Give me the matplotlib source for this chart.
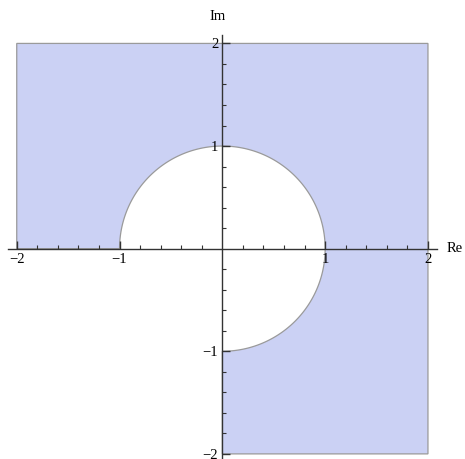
import numpy as np
import matplotlib
matplotlib.use("Agg")
import matplotlib.pyplot as plt
from matplotlib.patches import Polygon
from matplotlib.ticker import FixedLocator

# region definition: |z| > radius and (Re z > 0 or Im z > 0), inside box
x_range = [-2.0, 2.0]
y_range = [-2.0, 2.0]
radius = 1.0
major_ticks = [-2, -1, 1, 2]
major_labels = ["\u22122", "\u22121", "1", "2"]
axis_labels = ["Re", "Im"]

fill_color = "#cbd1f4"
edge_color = "#9a9a9a"

fig = plt.figure(figsize=(4.65, 4.59), dpi=100)
ax = fig.add_axes([8/465, 1/459, 428.7/465, 423.5/459])
ax.set_xlim(-2.085, 2.085)
ax.set_ylim(-2.04, 2.087)

# build the region boundary
th = np.linspace(np.pi, -np.pi/2, 400)
arc = np.column_stack([radius*np.cos(th), radius*np.sin(th)])
pts = [(x_range[0], 0.0), (-radius, 0.0)]
pts += [tuple(p) for p in arc]
pts += [(0.0, y_range[0]), (x_range[1], y_range[0]), (x_range[1], y_range[1]), (x_range[0], y_range[1])]
poly = Polygon(pts, closed=True, facecolor=fill_color, edgecolor=edge_color, linewidth=0.9, zorder=1)
ax.add_patch(poly)

for s in ["top", "right"]:
    ax.spines[s].set_visible(False)
ax.spines["left"].set_position(("data", 0))
ax.spines["bottom"].set_position(("data", 0))
for s in ["left", "bottom"]:
    ax.spines[s].set_color("#333333")
    ax.spines[s].set_linewidth(1.0)
    ax.spines[s].set_zorder(3)

serif = ["Liberation Serif", "DejaVu Serif"]
fs = 10.5
ax.xaxis.set_major_locator(FixedLocator(major_ticks))
ax.yaxis.set_major_locator(FixedLocator(major_ticks))
ax.set_xticklabels(major_labels, family=serif, fontsize=fs)
ax.set_yticklabels(major_labels, family=serif, fontsize=fs)
minor = [v for v in np.round(np.arange(-2.0, 2.01, 0.2), 2) if abs(v - round(v)) > 1e-6]
ax.xaxis.set_minor_locator(FixedLocator(minor))
ax.yaxis.set_minor_locator(FixedLocator(minor))
ax.tick_params(which="major", direction="in", length=5.5, width=1.0, color="#333333", pad=3)
ax.tick_params(which="minor", direction="in", length=3, width=0.8, color="#333333")

fig.text(455/465, 1 - 248/459, axis_labels[0], family=serif, fontsize=fs, ha="center", va="center")
fig.text(218/465, 1 - 16/459, axis_labels[1], family=serif, fontsize=fs, ha="center", va="center")

fig.savefig("out.png", dpi=100)
